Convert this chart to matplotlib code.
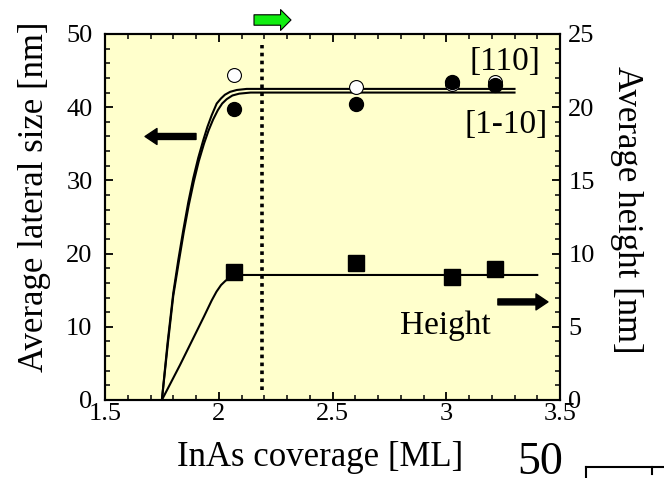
import matplotlib
matplotlib.use("Agg")
import matplotlib.pyplot as plt
from matplotlib.ticker import MultipleLocator
from matplotlib.lines import Line2D

plt.rcParams.update({
    "font.family": ["Liberation Serif", "DejaVu Serif"],
    "font.size": 19,
    "xtick.direction": "in",
    "ytick.direction": "in",
    "axes.linewidth": 1.5,
})

# measured points: lateral size along [110] (open) and [1-10] (filled), height (squares)
cov = [2.065, 2.604, 3.027, 3.215]
size_110 = [44.4, 42.8, 43.2, 43.5]
size_1m10 = [39.7, 40.4, 43.5, 43.0]
height = [8.76, 9.38, 8.42, 8.95]

# fitted curves
fit110_x = [1.75, 1.775, 1.80, 1.822, 1.844, 1.866, 1.888, 1.91, 1.932, 1.95,
            1.969, 1.991, 2.01, 2.027, 2.05, 2.079, 2.123, 3.30]
fit110_y = [0.0, 7.8, 14.6, 19.1, 23.2, 27.0, 30.3, 33.1, 35.5, 37.3,
            38.9, 40.5, 41.2, 41.7, 42.1, 42.35, 42.5, 42.5]
fit1m10_x = [1.75, 1.776, 1.80, 1.824, 1.846, 1.868, 1.89, 1.912, 1.935, 1.955,
             1.975, 1.996, 2.015, 2.035, 2.06, 2.09, 2.14, 3.30]
fit1m10_y = [0.0, 7.6, 14.2, 18.8, 22.9, 26.6, 29.8, 32.6, 35.0, 36.8,
             38.3, 39.6, 40.5, 41.1, 41.6, 41.85, 42.0, 42.0]
fith_x = [1.75, 1.79, 1.83, 1.865, 1.90, 1.935, 1.969, 1.99, 2.01, 2.03,
          2.049, 2.075, 2.108, 3.40]
fith_y = [0.0, 1.2, 2.4, 3.5, 4.6, 5.7, 6.8, 7.4, 7.85, 8.15,
          8.33, 8.47, 8.54, 8.54]

crit_cov = 2.19

W, H = 664, 478
fig = plt.figure(figsize=(W / 100, H / 100), dpi=100)
ax = fig.add_axes([105 / W, 1 - 400 / H, 455 / W, 366 / H])
ax.set_facecolor("#ffffcc")
ax2 = ax.twinx()

ax.plot(fit110_x, fit110_y, color="black", lw=1.5)
ax.plot(fit1m10_x, fit1m10_y, color="black", lw=1.5)
ax.plot(cov, size_110, "o", mfc="white", mec="black", mew=0.8, ms=10)
ax.plot(cov, size_1m10, "o", mfc="black", mec="black", ms=10)
ax.vlines(crit_cov, 1.4, 48.5, colors="black", lw=2.6, linestyles=(0, (1, 1.2)))

ax2.plot(fith_x, fith_y, color="black", lw=1.5)
ax2.plot(cov, height, "s", mfc="black", mec="black", ms=11)

ax.set_xlim(1.5, 3.5)
ax.set_ylim(0, 50)
ax2.set_ylim(0, 25)
ax.xaxis.set_minor_locator(MultipleLocator(0.1))
ax.yaxis.set_major_locator(MultipleLocator(10))
ax.yaxis.set_minor_locator(MultipleLocator(2))
ax2.yaxis.set_major_locator(MultipleLocator(5))
ax2.yaxis.set_minor_locator(MultipleLocator(1))
ax.set_xticks([1.5, 2, 2.5, 3, 3.5])
ax.set_xticklabels(["1.5", "2", "2.5", "3", "3.5"])

ax.tick_params(axis="x", which="both", top=True)
for a in (ax, ax2):
    a.tick_params(which="major", length=6, width=1.3, labelsize=19, pad=2)
    a.tick_params(which="minor", length=3.5, width=1.1)
ax.tick_params(axis="y", which="major", pad=9)
ax2.tick_params(axis="y", which="major", pad=6)

# axis titles placed where they sit in the original
fig.text(320 / W, 1 - 457 / H, "InAs coverage [ML]", fontsize=25, ha="center", va="center")
fig.text(35 / W, 1 - 197 / H, "Average lateral size [nm]", fontsize=25,
         rotation=90, ha="center", va="center")
fig.text(627 / W, 1 - 210 / H, "Average height [nm]", fontsize=25,
         rotation=270, ha="center", va="center")

ax.text(3.26, 46.2, "[110]", fontsize=24, ha="center", va="center")
ax.text(3.263, 37.6, "[1-10]", fontsize=24, ha="center", va="center")
ax.text(2.995, 10.2, "Height", fontsize=24, ha="center", va="center")

arrow = dict(facecolor="black", edgecolor="black", width=4.3, headwidth=11.5, headlength=8.6)
ax.annotate("", xy=(1.676, 36.0), xytext=(1.90, 36.0), arrowprops=arrow)
ax.annotate("", xy=(3.447, 13.4), xytext=(3.227, 13.4), arrowprops=arrow)

# green arrow above the axes
ax.annotate("", xy=(291 / W, 1 - 20 / H), xytext=(254 / W, 1 - 20 / H),
            xycoords="figure fraction", textcoords="figure fraction",
            arrowprops=dict(facecolor="#11ee11", edgecolor="black", lw=0.8,
                            width=7.5, headwidth=15, headlength=7.5),
            annotation_clip=False)

# cropped piece of the neighbouring panel
fig.text(540 / W, 4 / H, "50", fontsize=33, ha="center", va="baseline")
fig.add_artist(Line2D([586 / W, 1.0], [1 - 467 / H, 1 - 467 / H],
                      transform=fig.transFigure, color="black", lw=1.5))
fig.add_artist(Line2D([586 / W, 586 / W], [1 - 467 / H, 0.0],
                      transform=fig.transFigure, color="black", lw=1.5))
fig.add_artist(Line2D([652 / W, 652 / W], [1 - 467 / H, 1 - 474 / H],
                      transform=fig.transFigure, color="black", lw=1.5))

fig.savefig("out.png", dpi=100)
